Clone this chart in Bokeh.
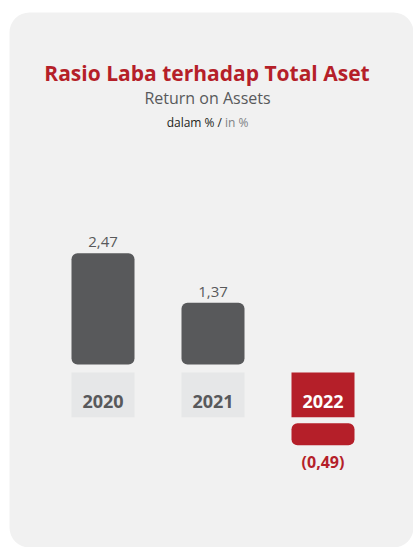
from bokeh.plotting import figure
from bokeh.models import Range1d, ColumnDataSource
from bokeh.core.properties import value
from bokeh.embed import file_html
from bokeh.resources import INLINE

# ---- data ----
years = ["2020", "2021", "2022"]
roa = [2.47, 1.37, -0.49]
value_labels = ["2,47", "1,37", "(0,49)"]
title_text = "Rasio Laba terhadap Total Aset"
subtitle_text = "Return on Assets"
unit_id = "dalam % /"
unit_en = "in %"

# ---- layout constants ----
W, H = 413, 547
XS = 110.0      # px per category step
YS = 45.0       # px per percentage point
X0 = 102.5      # page x of first category centre
Y0 = 364.0      # page y of zero line


def fx(px):
    return (px - X0) / XS


def fy(py):
    return (Y0 - py) / YS


GAP = 58.7 / YS          # gap under zero line for year boxes (negative bars start below it)
BAR_W = 63.0 / XS

RED = "#b51f29"
BAR = "#58595b"
LBOX = "#e6e7e8"
CARD = "#f1f1f1"
FONT = "Open Sans"

p = figure(width=W, height=H, x_range=Range1d(fx(0), fx(W)),
           y_range=Range1d(fy(H), fy(0)),
           output_backend="svg", toolbar_location=None, min_border=0)
p.axis.visible = False
p.grid.visible = False
p.outline_line_color = None
p.background_fill_color = "white"
p.border_fill_color = "white"

# card
p.quad(left=[fx(9)], right=[fx(413)], top=[fy(12)], bottom=[fy(547)],
       fill_color=CARD, line_color=None, border_radius=20)

xs = list(range(len(years)))
tops = [v if v > 0 else -GAP for v in roa]
bottoms = [0 if v > 0 else -GAP + v for v in roa]
bar_colors = [BAR if v > 0 else RED for v in roa]
box_colors = [LBOX if v > 0 else RED for v in roa]
year_colors = [BAR if v > 0 else "white" for v in roa]

src = ColumnDataSource(dict(x=xs, top=tops, bottom=bottoms, c=bar_colors,
                            bc=box_colors, yc=year_colors, year=years))

p.vbar(x="x", top="top", bottom="bottom", width=BAR_W, fill_color="c",
       line_color=None, border_radius=6, source=src)

# year boxes
p.vbar(x="x", top=fy(372), bottom=fy(416.7), width=BAR_W, fill_color="bc",
       line_color=None, source=src)
p.text(x="x", y=fy(400.5), text="year", text_color="yc", text_align="center",
       text_baseline="alphabetic", text_font=value(FONT), text_font_style="bold",
       text_font_size="18px", source=src)

# value labels
pos = [i for i, v in enumerate(roa) if v > 0]
neg = [i for i, v in enumerate(roa) if v <= 0]
p.text(x=[xs[i] for i in pos], y=[roa[i] + 11 / YS for i in pos],
       text=[value_labels[i] for i in pos], text_color=BAR, text_align="center",
       text_baseline="alphabetic", text_font=value(FONT), text_font_size="15px")
p.text(x=[xs[i] for i in neg], y=[-GAP + roa[i] - 17 / YS for i in neg],
       text=[value_labels[i] for i in neg], text_color=RED, text_align="center",
       text_baseline="alphabetic", text_font=value(FONT), text_font_style="bold",
       text_font_size="16px")

# titles
p.text(x=[fx(206.5)], y=[fy(72)], text=[title_text], text_color=RED,
       text_align="center", text_baseline="alphabetic", text_font=value(FONT),
       text_font_style="bold", text_font_size="21px")
p.text(x=[fx(207)], y=[fy(97)], text=[subtitle_text], text_color="#58595b",
       text_align="center", text_baseline="alphabetic", text_font=value(FONT),
       text_font_size="16px")
p.text(x=[fx(221.5)], y=[fy(121.5)], text=[unit_id], text_color="#231f20",
       text_align="right", text_baseline="alphabetic", text_font=value(FONT),
       text_font_size="12px")
p.text(x=[fx(224.5)], y=[fy(121.5)], text=[unit_en], text_color="#808285",
       text_align="left", text_baseline="alphabetic", text_font=value(FONT),
       text_font_size="12px")

open("out.html", "w").write(file_html(p, INLINE))
